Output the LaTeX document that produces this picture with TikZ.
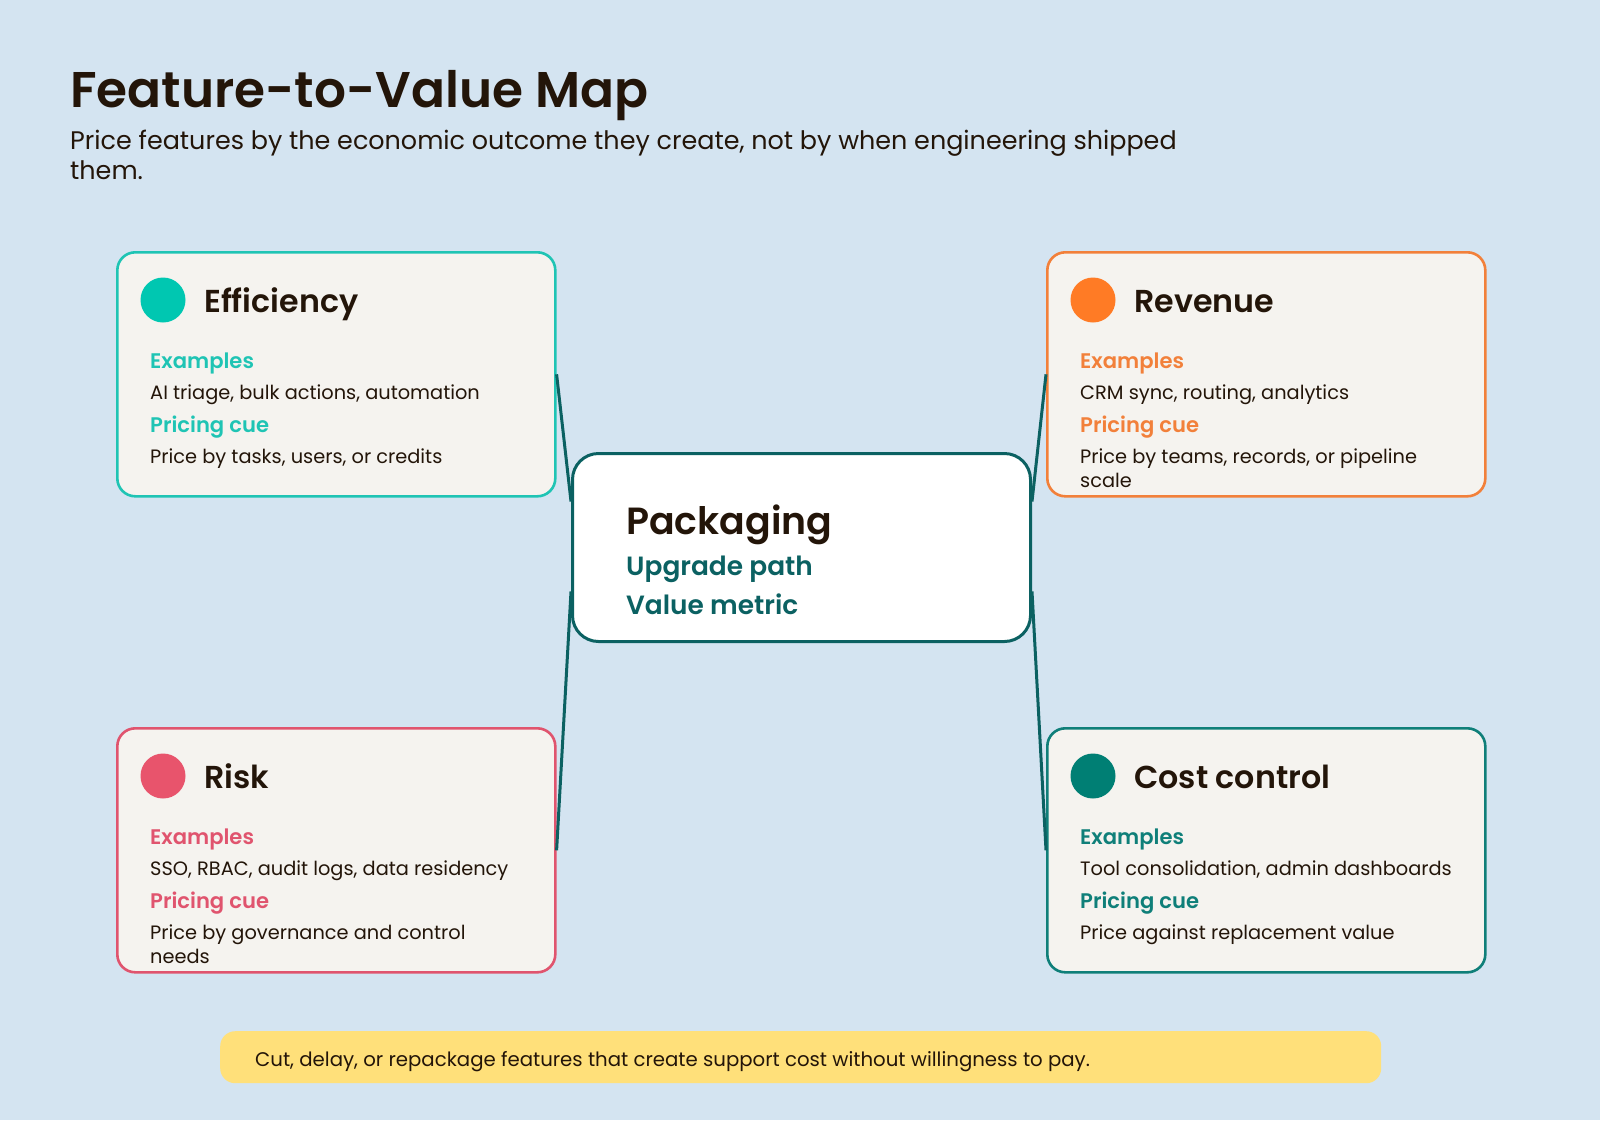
\documentclass[tikz,border=0pt]{standalone}
\usepackage{fontspec}
\setmainfont{Poppins}[Scale=0.88, BoldFont={Poppins SemiBold}]
\definecolor{bg}{HTML}{D4E4F1}
\definecolor{ink}{HTML}{231509}
\definecolor{effc}{HTML}{1FC4B4}
\definecolor{effd}{HTML}{00C7B1}
\definecolor{revc}{HTML}{F2803A}
\definecolor{revd}{HTML}{FF7B25}
\definecolor{riskc}{HTML}{E0546E}
\definecolor{riskd}{HTML}{E8546C}
\definecolor{costc}{HTML}{0F7F79}
\definecolor{costd}{HTML}{007F74}
\definecolor{pack}{HTML}{0B6162}
\definecolor{cardfill}{HTML}{F5F3EF}
\definecolor{foot}{HTML}{FFE07A}
\tikzset{
  cardbox/.style={rectangle, rounded corners=18pt, line width=2.6pt, fill=cardfill,
    minimum width=438pt, minimum height=244pt, inner sep=0pt},
  conn/.style={draw=pack, line width=3pt},
  txt/.style={anchor=base west, inner sep=0pt, text=ink},
}
\newcommand\fs[1]{\fontsize{#1}{#1}\selectfont}
\newcommand\mycard[9]{%
  \node[cardbox, draw=#4, anchor=north west] (#1) at (#2,#3) {};
  \begin{scope}[shift={(#2,#3)}]
    \fill[#5] (47,49) circle (22.5);
    \node[txt] (#1-title) at (88,61) {\fs{36}\bfseries #6};
    \node[txt, text=#4] (#1-exl) at (34,117) {\fs{24}\bfseries Examples};
    \node[txt] (#1-ex) at (34,148) {\fs{22}#7};
    \node[txt, text=#4] (#1-cl) at (34,181) {\fs{24}\bfseries Pricing cue};
    \node[txt] (#1-cue) at (34,212) {\fs{22}#8};
    \node[txt] (#1-cue2) at (34,236) {\fs{22}#9};
  \end{scope}}
\begin{document}
\begin{tikzpicture}[x=1pt, y=-1pt]
\useasboundingbox (0,0) rectangle (1600,1120);
\fill[bg] (0,0) rectangle (1600,1120);

\node[txt] (title) at (70,107) {\fs{57}\bfseries Feature-to-Value Map};
\node[txt] (sub1) at (70,149) {\fs{28.9}Price features by the economic outcome they create, not by when engineering shipped};
\node[txt] (sub2) at (70,179) {\fs{28.9}them.};

\mycard{eff}{116}{251}{effc}{effd}{Efficiency}{AI triage, bulk actions, automation}{Price by tasks, users, or credits}{}
\mycard{rev}{1046}{251}{revc}{revd}{Revenue}{CRM sync, routing, analytics}{Price by teams, records, or pipeline}{scale}
\mycard{risk}{116}{727}{riskc}{riskd}{Risk}{SSO, RBAC, audit logs, data residency}{Price by governance and control}{needs}
\mycard{cost}{1046}{727}{costc}{costd}{Cost control}{Tool consolidation, admin dashboards}{Price against replacement value}{}

\node[rectangle, rounded corners=26pt, draw=pack, line width=3pt, fill=white,
  minimum width=458pt, minimum height=188pt, anchor=north west] (pk) at (571,452) {};
\draw[conn] (eff.east) -- ([yshift=46pt]pk.west);
\draw[conn] (risk.east) -- ([yshift=-44pt]pk.west);
\draw[conn] (rev.west) -- ([yshift=46pt]pk.east);
\draw[conn] (cost.west) -- ([yshift=-44pt]pk.east);
\node[txt] (pk-t) at (626,534) {\fs{43}\bfseries Packaging};
\node[txt, text=pack] (pk-a) at (626,575) {\fs{30}\bfseries Upgrade path};
\node[txt, text=pack] (pk-b) at (626,614) {\fs{30}\bfseries Value metric};

\node[rectangle, rounded corners=15pt, fill=foot, minimum width=1161pt, minimum height=52pt,
  anchor=north west, inner sep=0pt] (ft) at (220,1031) {};
\node[txt] (ft-t) at (255,1066) {\fs{22.4}Cut, delay, or repackage features that create support cost without willingness to pay.};
\end{tikzpicture}
\end{document}
